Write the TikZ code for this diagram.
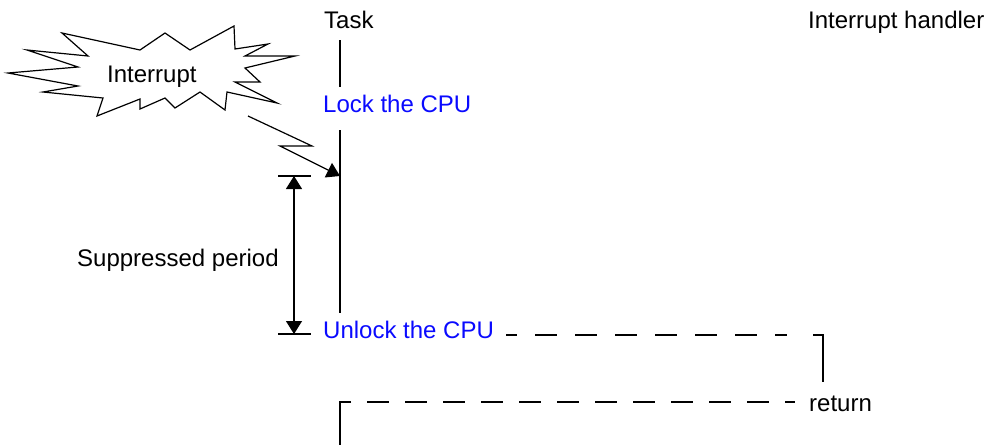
\documentclass[tikz,border=0pt]{standalone}
\usepackage{fontspec}
\setmainfont{Liberation Sans}
\usetikzlibrary{arrows.meta}
\definecolor{cpublue}{RGB}{10,10,255}
\begin{document}
\begin{tikzpicture}[x=1pt,y=-1pt,
  lbl/.style={anchor=base west,inner sep=0pt,font=\fontsize{24}{28}\selectfont},
  blu/.style={lbl,text=cpublue},
  lifeline/.style={line width=1.8pt},
  dashline/.style={line width=1.8pt},
  thin/.style={line width=1.2pt},
  tri/.style={-{Triangle[length=13pt,width=16pt]}},
  bitri/.style={{Triangle[length=13pt,width=16pt]}-{Triangle[length=13pt,width=16pt]}}]
\useasboundingbox (0,0) rectangle (987,445);

% texts
\node[lbl] (task) at (324,28) {Task};
\node[lbl] (handler) at (808,28) {Interrupt handler};
\node[blu] (lock) at (323,112) {Lock the CPU};
\node[blu] (unlock) at (323,338) {Unlock the CPU};
\node[lbl] (supp) at (77,266) {Suppressed period};
\node[lbl] (ret) at (809,411) {return};
\node[lbl] (intr) at (107,82) {Interrupt};

% starburst
\draw[thin,line join=miter] (62,33) -- (140,50) -- (165,33) -- (190,50) -- (234,26) -- (235,49)
  -- (268,44) -- (245,56) -- (295,56) -- (245,68) -- (260,82) -- (235,82) -- (277,103)
  -- (227,92) -- (225,110) -- (200,92) -- (175,108) -- (165,98) -- (140,109) -- (140,99)
  -- (97,116) -- (103,98) -- (43,92) -- (78,86) -- (8,73) -- (78,67) -- (27,50) -- (88,56) -- cycle;

% task lifeline
\coordinate (t1) at (340,40);
\coordinate (t2) at (340,87);
\coordinate (t3) at (340,130);
\coordinate (t4) at (340,313);
\coordinate (hit) at (340,176);
\draw[lifeline] (t1) -- (t2);
\draw[lifeline] (t3) -- (t4);

% interrupt lightning arrow
\coordinate (bo) at (248,116);
\draw[thin,tri] (bo) -- (312,146) -- (280,146) -- (hit);

% suppressed period
\coordinate (sTop) at (294,176);
\coordinate (sBot) at (294,334);
\draw[lifeline] (278,176) -- (311,176);
\draw[lifeline] (278,334) -- (311,334);
\draw[thin,bitri] (sTop) -- (sBot);

% dashed return path
\coordinate (d1) at (506,335);
\coordinate (d2) at (787,335);
\draw[dashline,dash pattern=on 22pt off 18pt,dash phase=11pt] (d1) -- (d2);
\draw[dashline,line cap=butt,line join=miter] (813,335) -- (823,335) -- (823,382);
\coordinate (e1) at (367,402);
\coordinate (e2) at (795,402);
\draw[dashline,dash pattern=on 22pt off 16pt] (e1) -- (e2);
\draw[dashline,line join=miter] (351,402) -- (340,402) -- (340,445);
\end{tikzpicture}
\end{document}
